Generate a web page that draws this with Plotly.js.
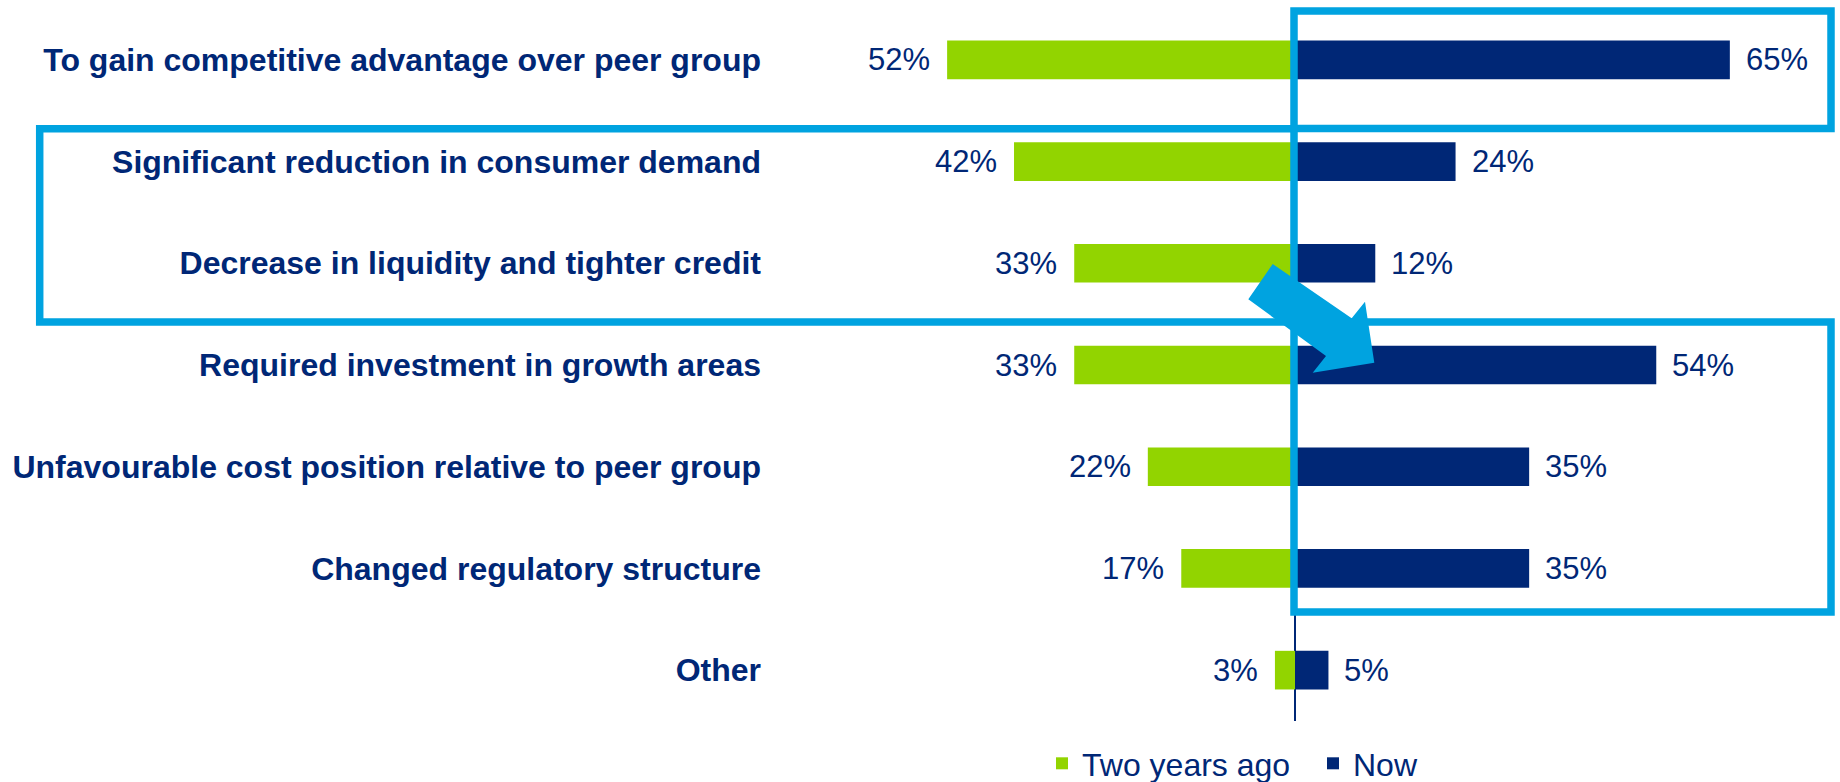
<!DOCTYPE html>
<html><head><meta charset="utf-8">
<script src="https://cdn.plot.ly/plotly-3.0.1.min.js"></script>
<style>html,body{margin:0;padding:0;background:#fff;overflow:hidden}#chart{width:1840px;height:782px}</style>
</head><body><div id="chart"></div>
<script>
// ---- data ----
const categories = [
  'To gain competitive advantage over peer group',
  'Significant reduction in consumer demand',
  'Decrease in liquidity and tighter credit',
  'Required investment in growth areas',
  'Unfavourable cost position relative to peer group',
  'Changed regulatory structure',
  'Other'
];
const twoYearsAgo = [52, 42, 33, 33, 22, 17, 3];
const now = [65, 24, 12, 54, 35, 35, 5];
const seriesNames = ['Two years ago', 'Now'];

// ---- style / geometry ----
const NAVY = '#002776', GREEN = '#92D400', LIGHT = '#00A3E0';
const FONT = 'Liberation Sans, Arial, sans-serif';
const FIG_W = 1840, FIG_H = 782;
const M = {l: 770, r: 0, t: 9, b: 61, autoexpand: false};
const PW = FIG_W - M.l - M.r, PH = FIG_H - M.t - M.b;
const ZERO_PX = 1295, PX_PER_PCT = 6.69;
const xRange = [(M.l - ZERO_PX) / PX_PER_PCT, (FIG_W - M.r - ZERO_PX) / PX_PER_PCT];

const px = x => (x - M.l) / PW;
const py = y => 1 - (y - M.t) / PH;

function rect(x0, y0, x1, y1) {
  return {type: 'rect', xref: 'paper', yref: 'paper', x0: px(x0), x1: px(x1), y0: py(y1), y1: py(y0),
          line: {color: LIGHT, width: 7.5}, fillcolor: 'rgba(0,0,0,0)', layer: 'above'};
}
const arrowPts = [[1272.7,264],[1351.7,318.3],[1365,301.7],[1374.3,362.7],[1312.7,372.7],[1326,356],[1248.3,299.3]];
const arrowPath = 'M' + arrowPts.map(p => px(p[0]).toFixed(5) + ',' + py(p[1]).toFixed(5)).join(' L') + ' Z';

const traces = [
  {type: 'bar', orientation: 'h', name: seriesNames[0], y: categories, x: twoYearsAgo.map(v => -v),
   marker: {color: GREEN}, hoverinfo: 'skip'},
  {type: 'bar', orientation: 'h', name: seriesNames[1], y: categories, x: now,
   marker: {color: NAVY}, hoverinfo: 'skip'}
];

const annotations = [];
categories.forEach((c, i) => {
  annotations.push({x: -twoYearsAgo[i], y: c, xref: 'x', yref: 'y', text: twoYearsAgo[i] + '%',
    showarrow: false, xanchor: 'right', yanchor: 'middle', xshift: -15,
    font: {family: FONT, size: 31, color: NAVY}});
  annotations.push({x: now[i], y: c, xref: 'x', yref: 'y', text: now[i] + '%',
    showarrow: false, xanchor: 'left', yanchor: 'middle', xshift: 14,
    font: {family: FONT, size: 31, color: NAVY}});
});

const layout = {
  width: FIG_W, height: FIG_H,
  margin: M,
  paper_bgcolor: '#fff', plot_bgcolor: '#fff',
  barmode: 'relative', bargap: 0.62,
  showlegend: true,
  legend: {orientation: 'h', x: px(1042), xanchor: 'left', y: py(736), yanchor: 'top',
           entrywidth: 226, entrywidthmode: 'pixels',
           font: {family: FONT, size: 32, color: NAVY}, bgcolor: 'rgba(0,0,0,0)'},
  xaxis: {range: xRange, showgrid: false, showticklabels: false, ticks: '',
          zeroline: true, zerolinecolor: NAVY, zerolinewidth: 2, showline: false, fixedrange: true},
  yaxis: {autorange: 'reversed', showgrid: false, zeroline: false, showline: false, ticks: '',
          ticklabelstandoff: 8,
          tickfont: {family: FONT, size: 32, color: NAVY, weight: 'bold'}, fixedrange: true},
  annotations: annotations,
  shapes: [
    rect(1294, 11, 1831, 128.5),
    rect(39.7, 128.7, 1294, 322),
    rect(1294, 322, 1831, 612),
    {type: 'path', xref: 'paper', yref: 'paper', path: arrowPath, fillcolor: LIGHT,
     line: {width: 0}, layer: 'above'}
  ]
};

Plotly.newPlot('chart', traces, layout, {displayModeBar: false, staticPlot: true});
</script>
</body></html>
